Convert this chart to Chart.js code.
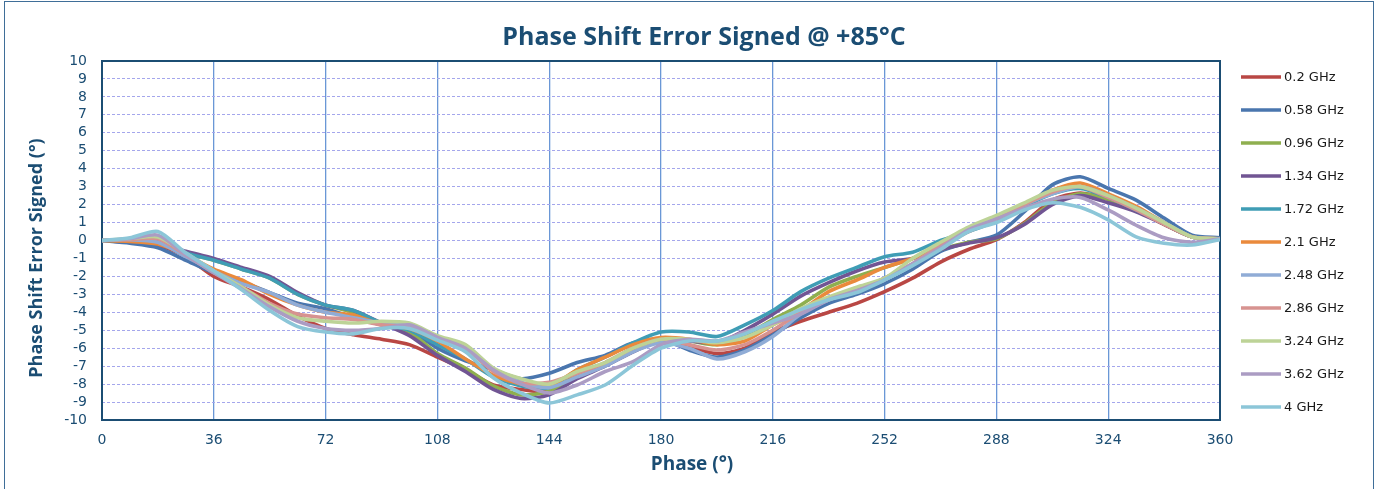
<!DOCTYPE html>
<html>
<head>
<meta charset="utf-8">
<script src="https://cdn.jsdelivr.net/npm/chart.js@4/dist/chart.umd.min.js"></script>
<style>
  body { margin: 0; background: #fff; }
  #frame { position: absolute; left: 4px; top: 1px; width: 1368px; height: 495px; border: 1.5px solid #3f6e98; }
  canvas { position: absolute; left: 0; top: 0; }
</style>
</head>
<body>
<div id="frame"></div>
<canvas id="phaseChart" width="1379" height="489"></canvas>
<script>
const phase = [0, 9, 18, 27, 36, 45, 54, 63, 72, 81, 90, 99, 108, 117, 126, 135, 144, 153, 162, 171,
  180, 189, 198, 207, 216, 225, 234, 243, 252, 261, 270, 279, 288, 297, 306, 315, 324, 333, 342, 351, 360];

const xTicks = [0, 36, 72, 108, 144, 180, 216, 252, 288, 324, 360];
const yTicks = [-10, -9, -8, -7, -6, -5, -4, -3, -2, -1, 0, 1, 2, 3, 4, 5, 6, 7, 8, 9, 10];

const freqs = ["0.2 GHz", "0.58 GHz", "0.96 GHz", "1.34 GHz", "1.72 GHz", "2.1 GHz",
  "2.48 GHz", "2.86 GHz", "3.24 GHz", "3.62 GHz", "4 GHz"];

const ghz02 = [0, -0.1, -0.25, -0.9, -2.0, -2.6, -3.3, -4.2, -4.9, -5.25, -5.5, -5.8, -6.5, -7.2, -8.05, -8.3, -8.4, -7.5, -6.9, -6.0,
  -5.5, -5.9, -6.3, -6.0, -5.1, -4.5, -4.0, -3.5, -2.85, -2.1, -1.2, -0.5, 0.05, 1.0, 2.25, 2.65, 2.3, 1.7, 0.9, 0.2, 0.1];
const ghz058 = [0, -0.15, -0.4, -1.1, -1.8, -2.3, -2.9, -3.5, -3.8, -4.3, -4.7, -5.0, -6.0, -6.7, -7.2, -7.7, -7.4, -6.8, -6.4, -5.7,
  -5.5, -6.1, -6.5, -6.1, -5.25, -4.3, -3.5, -3.0, -2.4, -1.6, -0.6, -0.1, 0.3, 1.6, 3.1, 3.55, 2.9, 2.25, 1.25, 0.3, 0.15];
const ghz096 = [0, 0.0, -0.1, -0.7, -1.1, -1.6, -2.1, -3.0, -3.6, -4.0, -4.6, -5.1, -6.3, -7.1, -8.1, -8.6, -8.4, -7.5, -6.9, -6.0,
  -5.6, -5.6, -5.8, -5.3, -4.4, -3.6, -2.6, -2.0, -1.5, -1.0, -0.5, -0.1, 0.1, 0.95, 2.1, 2.6, 2.3, 1.7, 0.9, 0.2, 0.1];
const ghz134 = [0, 0.0, -0.15, -0.6, -1.0, -1.5, -2.0, -2.9, -3.6, -3.9, -4.6, -5.3, -6.4, -7.3, -8.3, -8.8, -8.6, -7.7, -7.0, -6.2,
  -5.6, -5.6, -5.7, -5.0, -4.1, -3.1, -2.35, -1.7, -1.2, -1.0, -0.5, -0.15, 0.15, 0.9, 2.0, 2.5, 2.1, 1.6, 0.9, 0.2, 0.1];
const ghz172 = [0, 0.05, -0.05, -0.7, -1.1, -1.6, -2.1, -3.0, -3.6, -3.9, -4.6, -5.0, -5.8, -6.6, -7.6, -8.1, -8.2, -7.2, -6.5, -5.7,
  -5.1, -5.1, -5.35, -4.7, -3.9, -2.85, -2.1, -1.5, -0.9, -0.65, 0.0, 0.5, 1.1, 1.9, 2.6, 2.9, 2.4, 1.7, 1.0, 0.2, 0.1];
const ghz21 = [0, -0.05, -0.2, -0.8, -1.6, -2.2, -3.0, -3.6, -4.0, -4.15, -4.7, -4.9, -5.6, -6.6, -7.5, -8.0, -8.1, -7.2, -6.5, -5.8,
  -5.4, -5.5, -5.8, -5.6, -4.7, -3.9, -2.85, -2.2, -1.5, -1.0, -0.3, 0.5, 1.2, 2.0, 2.8, 3.2, 2.6, 1.9, 1.0, 0.2, 0.1];
const ghz248 = [0, 0.05, -0.1, -0.9, -1.7, -2.4, -2.9, -3.6, -4.0, -4.3, -4.6, -4.7, -5.4, -6.0, -7.2, -7.9, -8.2, -7.6, -7.0, -6.2,
  -5.7, -6.0, -6.6, -6.2, -5.35, -4.1, -3.3, -2.8, -2.1, -1.3, -0.3, 0.5, 1.2, 2.0, 2.6, 3.0, 2.5, 1.8, 1.0, 0.2, 0.1];
const ghz286 = [0, 0.05, 0.1, -0.8, -1.8, -2.6, -3.5, -4.1, -4.3, -4.4, -4.7, -4.8, -5.4, -6.0, -7.3, -7.95, -7.9, -7.4, -6.8, -6.0,
  -5.5, -5.8, -6.1, -5.8, -5.0, -4.0, -3.3, -2.8, -2.1, -1.3, -0.3, 0.6, 1.2, 2.0, 2.7, 3.0, 2.4, 1.7, 0.9, 0.2, 0.1];
const ghz324 = [0, 0.1, 0.2, -0.7, -1.7, -2.6, -3.6, -4.3, -4.5, -4.6, -4.5, -4.6, -5.3, -5.8, -7.1, -7.7, -8.0, -7.3, -6.8, -6.0,
  -5.5, -5.5, -5.7, -5.4, -4.7, -3.8, -3.15, -2.6, -2.1, -1.0, -0.1, 0.75, 1.4, 2.1, 2.8, 3.0, 2.5, 1.8, 1.0, 0.2, 0.1];
const ghz362 = [0, 0.1, 0.3, -0.8, -1.8, -2.7, -3.7, -4.5, -4.9, -5.0, -4.9, -4.7, -5.4, -6.0, -7.2, -8.0, -8.5, -8.05, -7.3, -6.75,
  -5.8, -5.5, -5.6, -5.1, -4.6, -4.1, -3.3, -2.8, -2.2, -1.3, -0.4, 0.6, 1.2, 1.8, 2.3, 2.4, 1.7, 0.85, 0.15, -0.1, 0.1];
const ghz4 = [0, 0.15, 0.5, -0.7, -1.7, -2.75, -3.9, -4.8, -5.1, -5.2, -4.9, -4.9, -5.55, -6.2, -7.65, -8.5, -9.05, -8.6, -8.05, -6.95,
  -6.0, -5.6, -5.6, -5.2, -4.5, -3.85, -3.3, -2.9, -2.2, -1.4, -0.5, 0.5, 1.0, 1.7, 2.1, 1.85, 1.15, 0.2, -0.15, -0.25, 0.05];

const series = [ghz02, ghz058, ghz096, ghz134, ghz172, ghz21, ghz248, ghz286, ghz324, ghz362, ghz4];
const colors = ["#b94744", "#4a76ae", "#8faf4f", "#715593", "#3f9db5", "#ea8a3c",
  "#90acd6", "#d79390", "#bdd397", "#ab9cc3", "#8cc6d8"];

const navy = "#1b4d73";

const decor = {
  id: "decor",
  beforeDatasetsDraw(chart) {
    const { ctx, chartArea: a } = chart;
    ctx.save();
    ctx.strokeStyle = navy;
    ctx.lineWidth = 2;
    ctx.strokeRect(a.left, a.top, a.right - a.left, a.bottom - a.top);
    ctx.restore();
  },
  afterDraw(chart) {
    const { ctx } = chart;
    ctx.save();
    ctx.fillStyle = navy;
    ctx.textAlign = "center";
    ctx.textBaseline = "middle";
    ctx.font = "bold 25px 'Open Sans'";
    ctx.fillText("Phase Shift Error Signed @ +85°C", 704, 38);
    ctx.font = "bold 19px 'Open Sans'";
    ctx.fillText("Phase (°)", 692, 465);
    ctx.translate(37, 258);
    ctx.rotate(-Math.PI / 2);
    ctx.font = "bold 18px 'Open Sans'";
    ctx.fillText("Phase Shift Error Signed (°)", 0, 0);
    ctx.restore();

    // legend
    ctx.save();
    ctx.font = "13px 'DejaVu Sans'";
    ctx.textAlign = "left";
    ctx.textBaseline = "middle";
    chart.data.datasets.forEach((ds, i) => {
      const y = 77 + i * 33;
      ctx.strokeStyle = ds.borderColor;
      ctx.lineWidth = 3.5;
      ctx.beginPath();
      ctx.moveTo(1241, y);
      ctx.lineTo(1281, y);
      ctx.stroke();
      ctx.fillStyle = "#1a1a1a";
      ctx.fillText(ds.label, 1284, y + 1);
    });
    ctx.restore();
  }
};

new Chart(document.getElementById("phaseChart"), {
  type: "line",
  data: {
    datasets: series.map((vals, i) => ({
      label: freqs[i],
      data: phase.map((p, j) => ({ x: p, y: vals[j] })),
      borderColor: colors[i],
      borderWidth: 3.6,
      pointRadius: 0,
      tension: 0.25,
      fill: false,
      order: series.length - i
    }))
  },
  options: {
    responsive: false,
    animation: false,
    devicePixelRatio: 1,
    layout: { padding: { top: 61, right: 159, left: 0, bottom: 0 } },
    plugins: { legend: { display: false }, title: { display: false }, tooltip: { enabled: false } },
    scales: {
      x: {
        type: "linear",
        min: 0, max: 360,
        afterFit: s => { s.height = 69; },
        afterBuildTicks: s => { s.ticks = xTicks.map(v => ({ value: v })); },
        ticks: { color: navy, font: { size: 14, family: "'DejaVu Sans'" }, padding: 12, autoSkip: false, maxRotation: 0 },
        grid: { color: "#6a97d6", lineWidth: 1.3, drawTicks: false },
        border: { display: false }
      },
      y: {
        min: -10, max: 10,
        afterFit: s => { s.width = 102; },
        afterBuildTicks: s => { s.ticks = yTicks.map(v => ({ value: v })); },
        ticks: { color: navy, font: { size: 14, family: "'DejaVu Sans'" }, padding: 15, autoSkip: false },
        grid: { color: "#a4a6ec", lineWidth: 1, drawTicks: false },
        border: { display: false, dash: [3, 2] }
      }
    }
  },
  plugins: [decor]
});
</script>
</body>
</html>
